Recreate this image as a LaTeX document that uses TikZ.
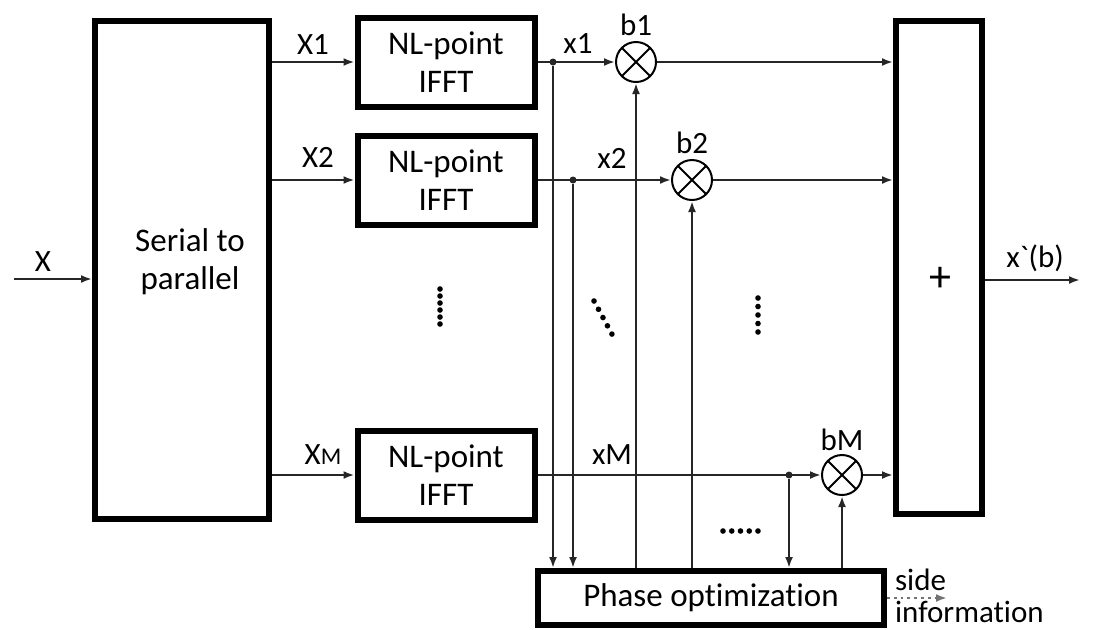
\documentclass[tikz,border=0pt]{standalone}
\usepackage{fontspec}
\setmainfont{Carlito}[Ligatures=NoCommon]
\usetikzlibrary{arrows.meta,positioning,calc}

\begin{document}
\begin{tikzpicture}[x=0.5pt, y=-0.5pt,
    font=\fontsize{16.5}{19}\selectfont,
    block/.style={rectangle, draw, line width=3pt, align=center, inner sep=0pt},
    ifft/.style={block, minimum width=88.5pt, minimum height=44.5pt},
    mult/.style={circle, draw, line width=1pt, minimum size=20pt, inner sep=0pt,
        path picture={\draw[line width=1pt] (path picture bounding box.south west) -- (path picture bounding box.north east)
            (path picture bounding box.north west) -- (path picture bounding box.south east);}},
    junc/.style={circle, fill=black!85, inner sep=0pt, minimum size=3.5pt},
    lbl/.style={font=\fontsize{15.5}{16}\selectfont},
    wire/.style={line width=1.4pt, draw=black!85},
    arrow/.style={wire, -{Latex[length=5.5pt,width=4pt]}},
    dotrun/.style={line width=2.8pt, line cap=round, dash pattern=on 0pt off #1},
]
    \useasboundingbox (0,0) rectangle (1101,629);

    \node[block, minimum width=87pt, minimum height=249pt] (sp) at (182,270) {};
    \node[align=center] (sptext) at (190,262) {Serial to\\parallel};
    \node[ifft] (ifft1) at (446,62) {NL-point\\IFFT};
    \node[ifft] (ifft2) at (446,180) {NL-point\\IFFT};
    \node[ifft] (ifftm) at (446,475) {NL-point\\IFFT};
    \node[mult] (b1) at (636,62) {};
    \node[mult] (b2) at (692,180) {};
    \node[mult] (bm) at (842,475) {};
    \node[junc] (j1) at (553,62) {};
    \node[junc] (j2) at (573,180) {};
    \node[junc] (jm) at (789,475) {};
    \node[block, minimum width=43pt, minimum height=246.5pt] (sum) at (939,267.5) {};
    \node[font=\fontsize{22}{24}\selectfont] (plus) at (940,279) {+};
    \node[block, minimum width=173pt, minimum height=27pt] (phase) at (711,598) {Phase optimization};

    \coordinate (xin) at (14,279);
    \coordinate (xout) at (1080,280);
    \coordinate (sideend) at (947,598);

    \draw[arrow] (xin) -- (xin -| sp.west);
    \draw[arrow] (sp.east |- ifft1) -- (ifft1.west);
    \draw[arrow] (sp.east |- ifft2) -- (ifft2.west);
    \draw[arrow] (sp.east |- ifftm) -- (ifftm.west);

    \draw[arrow] (ifft1.east) -- (b1.west);
    \draw[arrow] (ifft2.east) -- (b2.west);
    \draw[arrow] (ifftm.east) -- (bm.west);
    \draw[arrow] (b1.east) -- (b1 -| sum.west);
    \draw[arrow] (b2.east) -- (b2 -| sum.west);
    \draw[arrow] (bm.east) -- (bm -| sum.west);

    \draw[arrow] (j1) -- (j1 |- phase.north);
    \draw[arrow] (j2) -- (j2 |- phase.north);
    \draw[arrow] (jm) -- (jm |- phase.north);
    \draw[arrow] (b1 |- phase.north) -- (b1.south);
    \draw[arrow] (b2 |- phase.north) -- (b2.south);
    \draw[arrow] (bm |- phase.north) -- (bm.south);

    \draw[arrow] (xout -| sum.east) -- (xout);
    \draw[arrow, dotted, draw=black!55] (phase.east) -- (sideend);

    \node[lbl] (lx) at (43,262) {X};
    \node[lbl] (lx1) at (313,45) {X1};
    \node[lbl] (lx2) at (318,157) {X2};
    \node[lbl] (lxm) at (323,455) {X{\fontsize{12}{14}\selectfont M}};
    \node[lbl] (ly1) at (578,44) {x1};
    \node[lbl] (ly2) at (612,158) {x2};
    \node[lbl] (lym) at (612,455) {xM};
    \node[lbl, above=-1pt of b1] (lb1) {b1};
    \node[lbl, above=-1pt of b2] (lb2) {b2};
    \node[lbl, above=-2pt of bm] (lbm) {bM};
    \node[lbl] (lout) at (1035,258) {x\textasciigrave(b)};
    \node[lbl, align=left, anchor=west] (side) at (888,596) {side\\information};

    \draw[dotrun=3.5pt] (440,289) -- (440,324.2);
    \draw[dotrun=4.7pt] (594,301) -- (612,334.2);
    \draw[dotrun=4.25pt] (758,298) -- (758,332.2);
    \draw[dotrun=4.37pt] (723,531) -- (758.2,531);
\end{tikzpicture}
\end{document}
